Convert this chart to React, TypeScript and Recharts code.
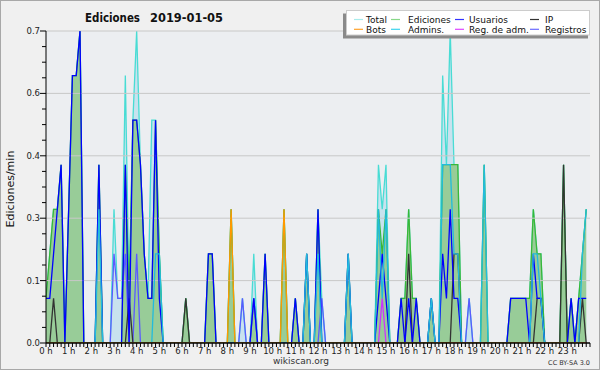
import React from 'react';
import { ComposedChart, Area, Line, XAxis, YAxis, CartesianGrid, ReferenceLine } from 'recharts';

// 10-minute bins (144 per day), values in edits/min — one row per hour
const TOTAL = [
  0.1, 0.2, 0.3, 0.3, 0.4, 0,
  0.3, 0.6, 0.6, 0.7, 0, 0,
  0, 0, 0.4, 0, 0, 0,
  0.3, 0.1, 0.1, 0.6, 0.1, 0.5,
  0.7, 0.4, 0.2, 0.1, 0.5, 0.5,
  0.2, 0, 0, 0, 0, 0,
  0, 0.1, 0, 0, 0, 0,
  0, 0.2, 0.2, 0, 0, 0,
  0, 0.3, 0, 0, 0.1, 0,
  0, 0.2, 0, 0, 0.2, 0,
  0, 0, 0, 0.3, 0, 0,
  0.1, 0, 0, 0.2, 0, 0,
  0.3, 0.1, 0, 0, 0, 0,
  0, 0, 0.2, 0, 0, 0,
  0, 0, 0, 0, 0.4, 0.3,
  0.4, 0, 0, 0, 0.1, 0.1,
  0.3, 0.1, 0.1, 0, 0, 0,
  0.1, 0, 0, 0.6, 0.4, 0.7,
  0.4, 0.4, 0, 0, 0.1, 0,
  0, 0, 0.4, 0, 0, 0,
  0, 0, 0, 0.1, 0.1, 0.1,
  0.1, 0.1, 0.1, 0.3, 0.2, 0.2,
  0, 0, 0, 0, 0, 0.4,
  0, 0.1, 0, 0.1, 0.2, 0.3,
];

const EDICIONES = [
  0.1, 0.2, 0.3, 0.3, 0.4, 0,
  0.3, 0.6, 0.6, 0.7, 0, 0,
  0, 0, 0.4, 0, 0, 0,
  0, 0, 0, 0.4, 0.1, 0.5,
  0.5, 0.4, 0.2, 0.1, 0.1, 0.5,
  0.2, 0, 0, 0, 0, 0,
  0, 0.1, 0, 0, 0, 0,
  0, 0.2, 0.2, 0, 0, 0,
  0, 0.3, 0, 0, 0, 0,
  0, 0.1, 0, 0, 0.2, 0,
  0, 0, 0, 0.3, 0, 0,
  0.1, 0, 0, 0.2, 0, 0,
  0.3, 0, 0, 0, 0, 0,
  0, 0, 0.2, 0, 0, 0,
  0, 0, 0, 0, 0.3, 0.2,
  0.3, 0, 0, 0, 0.1, 0.1,
  0.3, 0.1, 0.1, 0, 0, 0,
  0.1, 0, 0, 0.4, 0.4, 0.4,
  0.4, 0.4, 0, 0, 0, 0,
  0, 0, 0.4, 0, 0, 0,
  0, 0, 0, 0.1, 0.1, 0.1,
  0.1, 0.1, 0.1, 0.3, 0.2, 0.2,
  0, 0, 0, 0, 0, 0.4,
  0, 0.1, 0, 0.1, 0.2, 0.3,
];

const USUARIOS = [
  0.1, 0.1, 0.2, 0.3, 0.4, 0,
  0.3, 0.6, 0.6, 0.7, 0, 0,
  0, 0, 0.4, 0, 0, 0,
  0, 0, 0, 0.4, 0, 0.5,
  0.5, 0.4, 0.2, 0.1, 0.1, 0.5,
  0.1, 0, 0, 0, 0, 0,
  0, 0, 0, 0, 0, 0,
  0, 0.2, 0.2, 0, 0, 0,
  0, 0, 0, 0, 0, 0,
  0, 0.1, 0, 0, 0.2, 0,
  0, 0, 0, 0, 0, 0,
  0.1, 0, 0, 0.2, 0, 0,
  0.3, 0, 0, 0, 0, 0,
  0, 0, 0.2, 0, 0, 0,
  0, 0, 0, 0, 0.1, 0.2,
  0.1, 0, 0, 0, 0.1, 0,
  0.1, 0, 0.1, 0, 0, 0,
  0.1, 0, 0, 0.2, 0.1, 0.3,
  0.1, 0.1, 0, 0, 0, 0,
  0, 0, 0, 0, 0, 0,
  0, 0, 0, 0.1, 0.1, 0.1,
  0.1, 0.1, 0, 0.2, 0.1, 0.1,
  0, 0, 0, 0, 0, 0,
  0, 0.1, 0, 0.1, 0.1, 0.1,
];

const IP = [
  0, 0, 0.1, 0, 0, 0,
  0, 0, 0, 0, 0, 0,
  0, 0, 0, 0, 0, 0,
  0, 0, 0, 0, 0.1, 0,
  0, 0, 0, 0, 0, 0,
  0, 0, 0, 0, 0, 0,
  0, 0.1, 0, 0, 0, 0,
  0, 0, 0, 0, 0, 0,
  0, 0, 0, 0, 0, 0,
  0, 0, 0, 0, 0, 0,
  0, 0, 0, 0, 0, 0,
  0, 0, 0, 0, 0, 0,
  0, 0, 0, 0, 0, 0,
  0, 0, 0, 0, 0, 0,
  0, 0, 0, 0, 0, 0,
  0, 0, 0, 0, 0, 0,
  0.2, 0, 0, 0, 0, 0,
  0, 0, 0, 0, 0, 0,
  0.2, 0.2, 0, 0, 0, 0,
  0, 0, 0, 0, 0, 0,
  0, 0, 0, 0, 0, 0,
  0, 0, 0, 0, 0.1, 0.1,
  0, 0, 0, 0, 0, 0.4,
  0, 0, 0, 0, 0.1, 0,
];

const BOTS = [
  0, 0, 0, 0, 0, 0,
  0, 0, 0, 0, 0, 0,
  0, 0, 0, 0, 0, 0,
  0, 0, 0, 0, 0, 0,
  0, 0, 0, 0, 0, 0,
  0, 0, 0, 0, 0, 0,
  0, 0, 0, 0, 0, 0,
  0, 0, 0, 0, 0, 0,
  0, 0.3, 0, 0, 0, 0,
  0, 0, 0, 0, 0, 0,
  0, 0, 0, 0.3, 0, 0,
  0, 0, 0, 0, 0, 0,
  0, 0, 0, 0, 0, 0,
  0, 0, 0, 0, 0, 0,
  0, 0, 0, 0, 0, 0,
  0, 0, 0, 0, 0, 0,
  0, 0, 0, 0, 0, 0,
  0, 0, 0, 0, 0, 0,
  0, 0, 0, 0, 0, 0,
  0, 0, 0, 0, 0, 0,
  0, 0, 0, 0, 0, 0,
  0, 0, 0, 0, 0, 0,
  0, 0, 0, 0, 0, 0,
  0, 0, 0, 0, 0, 0,
];

const ADMINS = [
  0, 0, 0, 0, 0, 0,
  0, 0, 0, 0, 0, 0,
  0, 0, 0.3, 0, 0, 0,
  0, 0, 0, 0, 0, 0,
  0, 0, 0, 0, 0, 0.2,
  0.2, 0, 0, 0, 0, 0,
  0, 0, 0, 0, 0, 0,
  0, 0, 0, 0, 0, 0,
  0, 0, 0, 0, 0, 0,
  0, 0, 0, 0, 0, 0,
  0, 0, 0, 0, 0, 0,
  0, 0, 0, 0.2, 0, 0,
  0.2, 0, 0, 0, 0, 0,
  0, 0, 0.2, 0, 0, 0,
  0, 0, 0, 0, 0.3, 0.1,
  0.3, 0, 0, 0, 0, 0,
  0, 0, 0, 0, 0, 0,
  0.1, 0, 0, 0.4, 0.4, 0.4,
  0.2, 0.2, 0, 0, 0, 0,
  0, 0, 0.4, 0, 0, 0,
  0, 0, 0, 0, 0, 0,
  0, 0, 0, 0.2, 0.2, 0.1,
  0, 0, 0, 0, 0, 0,
  0, 0, 0, 0, 0.2, 0.3,
];

const REG_ADM = [
  0, 0, 0, 0, 0, 0,
  0, 0, 0, 0, 0, 0,
  0, 0, 0, 0, 0, 0,
  0, 0, 0, 0, 0, 0,
  0, 0, 0, 0, 0, 0,
  0, 0, 0, 0, 0, 0,
  0, 0, 0, 0, 0, 0,
  0, 0, 0, 0, 0, 0,
  0, 0, 0, 0, 0, 0,
  0, 0, 0, 0, 0, 0,
  0, 0, 0, 0, 0, 0,
  0, 0, 0, 0, 0, 0,
  0, 0, 0, 0, 0, 0,
  0, 0, 0, 0, 0, 0,
  0, 0, 0, 0, 0, 0.1,
  0, 0, 0, 0, 0, 0,
  0, 0, 0, 0, 0, 0,
  0, 0, 0, 0, 0, 0,
  0, 0, 0, 0, 0, 0,
  0, 0, 0, 0, 0, 0,
  0, 0, 0, 0, 0, 0,
  0, 0, 0, 0, 0, 0,
  0, 0, 0, 0, 0, 0,
  0, 0, 0, 0, 0, 0,
];

const REGISTROS = [
  0, 0, 0, 0, 0, 0,
  0, 0, 0, 0, 0, 0,
  0, 0, 0, 0, 0, 0,
  0.2, 0.1, 0.1, 0.2, 0, 0,
  0.2, 0, 0, 0, 0, 0,
  0, 0, 0, 0, 0, 0,
  0, 0, 0, 0, 0, 0,
  0, 0, 0, 0, 0, 0,
  0, 0, 0, 0, 0.1, 0,
  0, 0.1, 0, 0, 0, 0,
  0, 0, 0, 0, 0, 0,
  0, 0, 0, 0, 0, 0,
  0, 0.1, 0, 0, 0, 0,
  0, 0, 0, 0, 0, 0,
  0, 0, 0, 0, 0, 0,
  0, 0, 0, 0, 0, 0,
  0, 0, 0, 0, 0, 0,
  0, 0, 0, 0, 0, 0,
  0, 0, 0, 0, 0.1, 0,
  0, 0, 0, 0, 0, 0,
  0, 0, 0, 0, 0, 0,
  0, 0, 0, 0, 0, 0,
  0, 0, 0, 0, 0, 0,
  0, 0, 0, 0, 0, 0,
];

const X_TICKS = Array.from({ length: 145 }, (_, i) => i / 6);
const Y_TICKS = Array.from({ length: 21 }, (_, i) => i * 0.035);
const Y_GRID = [0.14, 0.28, 0.42, 0.56, 0.7];

const LEGEND = [
  { name: 'Total', color: '#a8ecec' },
  { name: 'Ediciones', color: '#88d888' },
  { name: 'Usuarios', color: '#3333ff' },
  { name: 'IP', color: '#333333' },
  { name: 'Bots', color: '#ffa22a' },
  { name: 'Admins.', color: '#3cd4ee' },
  { name: 'Reg. de adm.', color: '#dd44ff' },
  { name: 'Registros', color: '#6a6aff' },
];

const data = TOTAL.map((t, i) => ({
  t: X_TICKS[i],
  total: t,
  ediciones: EDICIONES[i],
  usuarios: USUARIOS[i],
  ip: IP[i],
  bots: BOTS[i],
  admins: ADMINS[i],
  regadm: REG_ADM[i],
  registros: REGISTROS[i],
}));

const FONT = 'DejaVu Sans, Verdana, sans-serif';

const XTick = (props: any) => {
  const { x, y, payload } = props;
  const v = payload.value;
  const h = Math.round(v);
  const isHour = Math.abs(v - h) < 1e-6 && h < 24;
  return (
    <g>
      <line x1={x} x2={x} y1={y} y2={y + 4} stroke="#000" strokeWidth={1} />
      {isHour && (
        <text x={x} y={y + 11} textAnchor="middle" fontSize={8.5} fontFamily={FONT} fill="#222">
          {h} h
        </text>
      )}
    </g>
  );
};

const YTick = (props: any) => {
  const { x, y, payload } = props;
  const idx = Math.round(payload.value / 0.035);
  const major = idx % 4 === 0;
  return (
    <g>
      <line x1={x - (major ? 6 : 4)} x2={x} y1={y} y2={y} stroke="#000" strokeWidth={1} />
      {major && (
        <text x={x - 6} y={y + 3} textAnchor="end" fontSize={8.5} fontFamily={FONT} fill="#222">
          {payload.value.toFixed(1)}
        </text>
      )}
    </g>
  );
};

const colX = [354, 391, 455, 530];
const textX = [366, 408, 469, 545];

export default function App() {
  return (
    <div style={{ position: 'absolute', left: 0, top: 0, width: 600, height: 370, background: '#f0f0f0' }}>
      <ComposedChart width={600} height={370} data={data} margin={{ top: 31, right: 10, bottom: 0, left: 0 }}>
        <CartesianGrid fill="#eceef1" stroke="none" horizontal={false} vertical={false} />
        <XAxis
          dataKey="t"
          type="number"
          domain={[0, 24]}
          ticks={X_TICKS}
          interval={0}
          tick={(p: any) => <XTick {...p} />}
          tickLine={false}
          tickSize={0}
          tickMargin={0}
          height={27}
          axisLine={{ stroke: '#000' }}
          allowDataOverflow
        />
        <YAxis
          type="number"
          domain={[0, 0.7]}
          ticks={Y_TICKS}
          interval={0}
          tick={(p: any) => <YTick {...p} />}
          tickLine={false}
          tickSize={0}
          tickMargin={0}
          width={46}
          axisLine={{ stroke: '#000' }}
          allowDataOverflow
        />
        {Y_GRID.map((v) => (
          <ReferenceLine key={v} y={v} stroke="#c8c8c8" strokeWidth={1} />
        ))}
        <Area type="linear" dataKey="total" stroke="#48dcd4" strokeWidth={1.3} fill="#c8e2ee" fillOpacity={1} dot={false} isAnimationActive={false} />
        <Area type="linear" dataKey="ediciones" stroke="#38b838" strokeWidth={1.3} fill="#98cc98" fillOpacity={1} dot={false} isAnimationActive={false} />
        <Line type="linear" dataKey="registros" stroke="#5a5aff" strokeWidth={1.3} dot={false} isAnimationActive={false} />
        <Line type="linear" dataKey="regadm" stroke="#cc33ff" strokeWidth={1.3} dot={false} isAnimationActive={false} />
        <Line type="linear" dataKey="ip" stroke="#333333" strokeWidth={1.3} dot={false} isAnimationActive={false} />
        <Line type="linear" dataKey="usuarios" stroke="#0000ff" strokeWidth={1.3} dot={false} isAnimationActive={false} />
        <Line type="linear" dataKey="admins" stroke="#22bbdd" strokeWidth={1.3} dot={false} isAnimationActive={false} />
        <Line type="linear" dataKey="bots" stroke="#ff9900" strokeWidth={1.3} dot={false} isAnimationActive={false} />
        <ReferenceLine y={0} stroke="#000" strokeWidth={1.2} />
      </ComposedChart>
      <svg width={600} height={370} style={{ position: 'absolute', left: 0, top: 0, pointerEvents: 'none' }}>
        <rect x={0.5} y={0.5} width={599} height={369} fill="none" stroke="#a8a8a8" />
        <text x={85} y={22} fontSize={12} fontWeight="bold" fontFamily={FONT} fill="#111" textLength={55} lengthAdjust="spacingAndGlyphs">Ediciones</text>
        <text x={150} y={22} fontSize={12} fontWeight="bold" fontFamily={FONT} fill="#111" textLength={73} lengthAdjust="spacingAndGlyphs">2019-01-05</text>
        <text x={14} y={189} fontSize={11} fontFamily={FONT} fill="#111" textAnchor="middle" transform="rotate(-90 14 189)">Ediciones/min</text>
        <rect x={343} y={13.5} width={245} height={25} fill="#8a8a8a" />
        <rect x={346.5} y={10.5} width={243} height={24.5} fill="#ffffff" stroke="#cccccc" />
        {LEGEND.map((l, i) => {
          const col = i % 4;
          const row = Math.floor(i / 4);
          const cy = 19.5 + row * 9.8;
          return (
            <g key={l.name}>
              <line x1={colX[col]} x2={colX[col] + 9} y1={cy} y2={cy} stroke={l.color} strokeWidth={1.2} />
              <text x={textX[col]} y={cy + 3.3} fontSize={9} fontFamily={FONT} fill="#111">{l.name}</text>
            </g>
          );
        })}
        <text x={301} y={364} fontSize={9} fontFamily={FONT} fill="#333" textAnchor="middle">wikiscan.org</text>
        <text x={590} y={365} fontSize={6.5} fontFamily={FONT} fill="#333" textAnchor="end">CC BY-SA 3.0</text>
      </svg>
    </div>
  );
}
